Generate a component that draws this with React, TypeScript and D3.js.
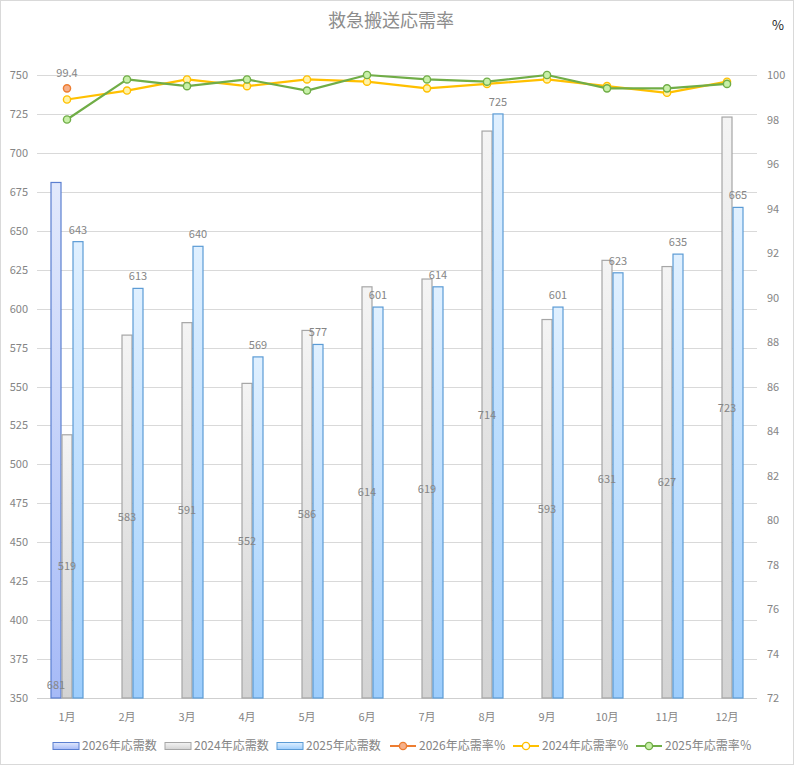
import React from "react";
import * as d3 from "d3";

const months = ["1月", "2月", "3月", "4月", "5月", "6月", "7月", "8月", "9月", "10月", "11月", "12月"];
const count2026: (number | null)[] = [681, null, null, null, null, null, null, null, null, null, null, null];
const count2024 = [519, 583, 591, 552, 586, 614, 619, 714, 593, 631, 627, 723];
const count2025 = [643, 613, 640, 569, 577, 601, 614, 725, 601, 623, 635, 665];
const rate2026: (number | null)[] = [99.4, null, null, null, null, null, null, null, null, null, null, null];
const rate2024 = [98.9, 99.3, 99.8, 99.5, 99.8, 99.7, 99.4, 99.6, 99.8, 99.5, 99.2, 99.7];
const rate2025 = [98.0, 99.8, 99.5, 99.8, 99.3, 100.0, 99.8, 99.7, 100.0, 99.4, 99.4, 99.6];
const leftTicks = [350, 375, 400, 425, 450, 475, 500, 525, 550, 575, 600, 625, 650, 675, 700, 725, 750];
const rightTicks = [72, 74, 76, 78, 80, 82, 84, 86, 88, 90, 92, 94, 96, 98, 100];
const barSeries = ["2026年応需数", "2024年応需数", "2025年応需数"];
const lineSeries = ["2026年応需率％", "2024年応需率％", "2025年応需率％"];

const W = 796;
const H = 766;
const FONT = "'Noto Sans CJK JP', 'Noto Sans', sans-serif";
const GRAY = "#858585";

export default function App() {
  const x = d3.scaleBand<string>().domain(months).range([37, 757]).padding(0);
  const sx = d3.scaleBand<string>().domain(barSeries).range([-16.5, 16.5]).padding(0);
  const yL = d3.scaleLinear().domain([350, 750]).range([698, 75]);
  const yR = d3.scaleLinear().domain([72, 100]).range([698, 75]);
  const cx = (m: string) => (x(m) as number) + x.bandwidth() / 2;

  const barData = [
    { name: barSeries[0], vals: count2026, grad: "g2026", stroke: "#5b7fd0", labelPos: "base" },
    { name: barSeries[1], vals: count2024 as (number | null)[], grad: "g2024", stroke: "#a6a6a6", labelPos: "center" },
    { name: barSeries[2], vals: count2025 as (number | null)[], grad: "g2025", stroke: "#5b9bd5", labelPos: "end" },
  ];
  const lineData = [
    { name: lineSeries[0], vals: rate2026, color: "#ed7d31", fill: "#f6b08a" },
    { name: lineSeries[1], vals: rate2024 as (number | null)[], color: "#ffc000", fill: "#fff3a8" },
    { name: lineSeries[2], vals: rate2025 as (number | null)[], color: "#70ad47", fill: "#c8f0a8" },
  ];

  const line = d3
    .line<number | null>()
    .defined((d) => d != null)
    .x((_, i) => cx(months[i]))
    .y((d) => yR(d as number));

  const bw = sx.bandwidth();

  // legend positions
  const legendBars = [53, 165, 277];
  const legendLines = [390, 513, 636];
  const ly = 746;

  return (
    <div style={{ position: "absolute", left: 0, top: 0 }}>
      <svg width={W} height={H} style={{ display: "block", fontFamily: FONT }}>
        <defs>
          <linearGradient id="g2026" x1="0" y1="0" x2="0" y2="1">
            <stop offset="0" stopColor="#e2e9fc" />
            <stop offset="1" stopColor="#a6baf7" />
          </linearGradient>
          <linearGradient id="g2024" x1="0" y1="0" x2="0" y2="1">
            <stop offset="0" stopColor="#f4f4f4" />
            <stop offset="1" stopColor="#d3d3d3" />
          </linearGradient>
          <linearGradient id="g2025" x1="0" y1="0" x2="0" y2="1">
            <stop offset="0" stopColor="#e0f0ff" />
            <stop offset="1" stopColor="#9dcdfc" />
          </linearGradient>
        </defs>
        <rect x={0.5} y={0.5} width={W - 3} height={H - 2} fill="#ffffff" stroke="#d9d9d9" />

        {/* title */}
        <text x={391} y={27} textAnchor="middle" fontSize={18} fill="#8c8c8c">
          救急搬送応需率
        </text>
        <text x={778} y={30} textAnchor="middle" fontSize={13} fill="#222">
          %
        </text>

        {/* grid */}
        {leftTicks.map((t) => (
          <line key={t} x1={37} x2={757} y1={Math.round(yL(t)) + 0.5} y2={Math.round(yL(t)) + 0.5} stroke={t === 350 ? "#cfcfcf" : "#d9d9d9"} strokeWidth={1} />
        ))}

        {/* left ticks */}
        {leftTicks.map((t) => (
          <text key={t} x={28} y={yL(t) + 4} textAnchor="end" fontSize={11} fill={GRAY}>
            {t}
          </text>
        ))}
        {/* right ticks */}
        {rightTicks.map((t) => (
          <text key={t} x={767} y={yR(t) + 4} textAnchor="start" fontSize={11} fill={GRAY}>
            {t}
          </text>
        ))}
        {/* x labels */}
        {months.map((m) => (
          <text key={m} x={cx(m)} y={721} textAnchor="middle" fontSize={11} fill={GRAY}>
            {m}
          </text>
        ))}

        {/* bars */}
        {barData.map((s) =>
          s.vals.map((v, i) => {
            if (v == null) return null;
            const bx = cx(months[i]) + (sx(s.name) as number);
            const top = yL(v);
            return (
              <rect key={s.name + i} x={bx + 0.5} y={top} width={bw - 1} height={yL(350) - top} fill={`url(#${s.grad})`} stroke={s.stroke} strokeWidth={1.2} />
            );
          })
        )}

        {/* bar labels */}
        {barData.map((s) =>
          s.vals.map((v, i) => {
            if (v == null) return null;
            const bxc = cx(months[i]) + (sx(s.name) as number) + bw / 2;
            const top = yL(v);
            let ty = top - 8;
            if (s.labelPos === "center") ty = (top + yL(350)) / 2 + 4;
            if (s.labelPos === "base") ty = yL(350) - 9;
            return (
              <text key={"l" + s.name + i} x={bxc} y={ty} textAnchor="middle" fontSize={11} fill={GRAY}>
                {v}
              </text>
            );
          })
        )}

        {/* lines */}
        {lineData.map((s) => (
          <g key={s.name}>
            <path d={line(s.vals) || ""} fill="none" stroke={s.color} strokeWidth={2.2} strokeLinejoin="round" />
            {s.vals.map((v, i) =>
              v == null ? null : (
                <circle key={i} cx={cx(months[i])} cy={yR(v)} r={3.6} fill={s.fill} stroke={s.color} strokeWidth={1.4} />
              )
            )}
          </g>
        ))}
        {/* 2026 rate label */}
        {rate2026.map((v, i) =>
          v == null ? null : (
            <text key={"r" + i} x={cx(months[i])} y={yR(v) - 11} textAnchor="middle" fontSize={11} fill={GRAY}>
              {v.toFixed(1)}
            </text>
          )
        )}

        {/* legend */}
        {barData.map((s, i) => (
          <g key={"lg" + i}>
            <rect x={legendBars[i]} y={ly - 3.5} width={26} height={7} fill={`url(#${s.grad})`} stroke={s.stroke} strokeWidth={1} />
            <text x={legendBars[i] + 29} y={ly + 4} fontSize={12} fill={GRAY}>
              {s.name}
            </text>
          </g>
        ))}
        {lineData.map((s, i) => (
          <g key={"ll" + i}>
            <line x1={legendLines[i]} x2={legendLines[i] + 26} y1={ly} y2={ly} stroke={s.color} strokeWidth={2} />
            <circle cx={legendLines[i] + 13} cy={ly} r={3.6} fill={s.fill === "#fff3a8" ? "#ffffff" : s.fill} stroke={s.color} strokeWidth={1.4} />
            <text x={legendLines[i] + 29} y={ly + 4} fontSize={12} fill={GRAY}>
              {s.name}
            </text>
          </g>
        ))}
      </svg>
    </div>
  );
}
